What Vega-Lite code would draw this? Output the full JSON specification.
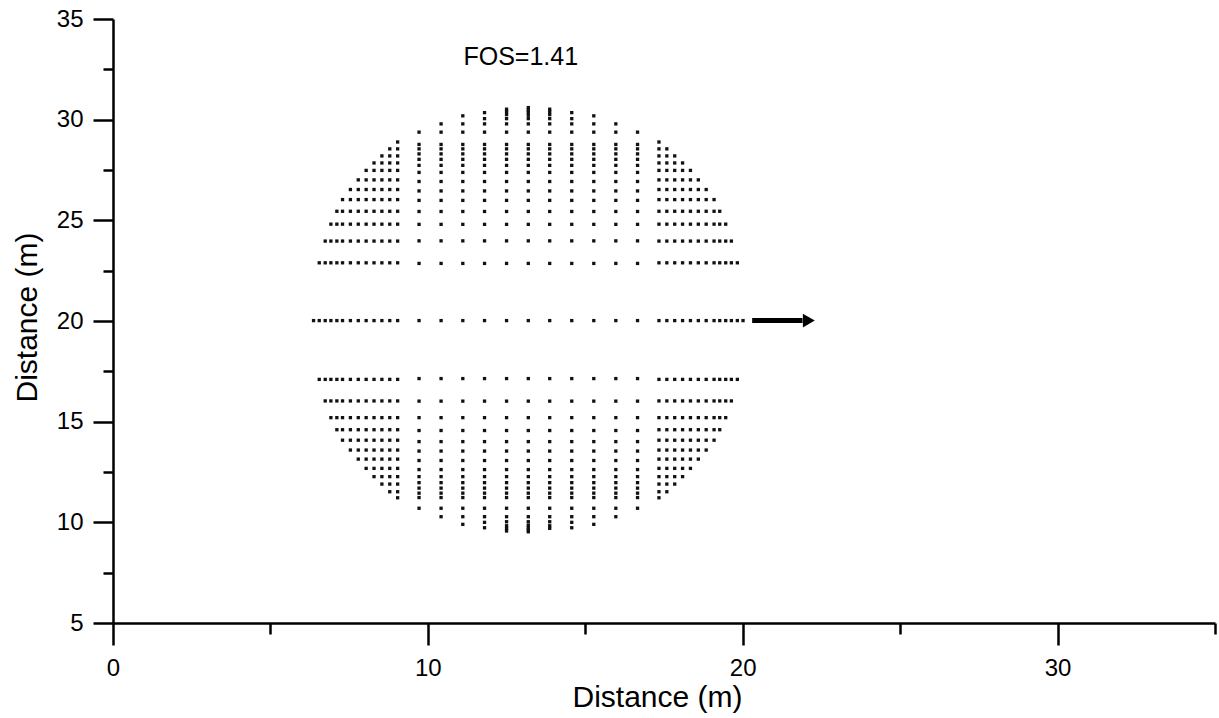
{
"$schema": "https://vega.github.io/schema/vega-lite/v6.json",
"width": 1102, "height": 604,
"autosize": {"type": "none"},
"padding": {"left": 113, "top": 19, "right": 4, "bottom": 95},
"background": "white",
"config": {"view": {"stroke": null}, "font": "Liberation Sans"},
"datasets": {
"pts": [
{"x":9.04,"y":22.89},{"x":8.79,"y":22.89},{"x":8.54,"y":22.89},{"x":8.29,"y":22.89},{"x":8.04,"y":22.89},{"x":7.79,"y":22.89},{"x":7.54,"y":22.89},{"x":7.29,"y":22.89},{"x":7.11,"y":22.89},{"x":6.92,"y":22.89},{"x":6.74,"y":22.89},{"x":6.55,"y":22.89},
{"x":9.04,"y":23.97},{"x":8.79,"y":23.97},{"x":8.54,"y":23.97},{"x":8.29,"y":23.97},{"x":8.04,"y":23.97},{"x":7.79,"y":23.97},{"x":7.54,"y":23.97},{"x":7.29,"y":23.97},{"x":7.11,"y":23.97},{"x":6.92,"y":23.97},{"x":6.74,"y":23.97},
{"x":9.04,"y":24.81},{"x":8.79,"y":24.81},{"x":8.54,"y":24.81},{"x":8.29,"y":24.81},{"x":8.04,"y":24.81},{"x":7.79,"y":24.81},{"x":7.54,"y":24.81},{"x":7.29,"y":24.81},{"x":7.11,"y":24.81},{"x":6.92,"y":24.81},
{"x":9.04,"y":25.45},{"x":8.79,"y":25.45},{"x":8.54,"y":25.45},{"x":8.29,"y":25.45},{"x":8.04,"y":25.45},{"x":7.79,"y":25.45},{"x":7.54,"y":25.45},{"x":7.29,"y":25.45},{"x":7.11,"y":25.45},
{"x":9.04,"y":26.03},{"x":8.79,"y":26.03},{"x":8.54,"y":26.03},{"x":8.29,"y":26.03},{"x":8.04,"y":26.03},{"x":7.79,"y":26.03},{"x":7.54,"y":26.03},{"x":7.29,"y":26.03},
{"x":9.04,"y":26.53},{"x":8.79,"y":26.53},{"x":8.54,"y":26.53},{"x":8.29,"y":26.53},{"x":8.04,"y":26.53},{"x":7.79,"y":26.53},{"x":7.54,"y":26.53},
{"x":9.04,"y":27.01},{"x":8.79,"y":27.01},{"x":8.54,"y":27.01},{"x":8.29,"y":27.01},{"x":8.04,"y":27.01},{"x":7.79,"y":27.01},
{"x":9.04,"y":27.48},{"x":8.79,"y":27.48},{"x":8.54,"y":27.48},{"x":8.29,"y":27.48},{"x":8.04,"y":27.48},
{"x":9.04,"y":27.85},{"x":8.79,"y":27.85},{"x":8.54,"y":27.85},{"x":8.29,"y":27.85},
{"x":9.04,"y":28.2},{"x":8.79,"y":28.2},{"x":8.54,"y":28.2},
{"x":9.04,"y":28.55},{"x":8.79,"y":28.55},
{"x":9.04,"y":28.89},
{"x":9.04,"y":17.1},{"x":8.79,"y":17.1},{"x":8.54,"y":17.1},{"x":8.29,"y":17.1},{"x":8.04,"y":17.1},{"x":7.79,"y":17.1},{"x":7.54,"y":17.1},{"x":7.29,"y":17.1},{"x":7.11,"y":17.1},{"x":6.92,"y":17.1},{"x":6.74,"y":17.1},{"x":6.55,"y":17.1},
{"x":9.04,"y":16.03},{"x":8.79,"y":16.03},{"x":8.54,"y":16.03},{"x":8.29,"y":16.03},{"x":8.04,"y":16.03},{"x":7.79,"y":16.03},{"x":7.54,"y":16.03},{"x":7.29,"y":16.03},{"x":7.11,"y":16.03},{"x":6.92,"y":16.03},{"x":6.74,"y":16.03},
{"x":9.04,"y":15.2},{"x":8.79,"y":15.2},{"x":8.54,"y":15.2},{"x":8.29,"y":15.2},{"x":8.04,"y":15.2},{"x":7.79,"y":15.2},{"x":7.54,"y":15.2},{"x":7.29,"y":15.2},{"x":7.11,"y":15.2},{"x":6.92,"y":15.2},
{"x":9.04,"y":14.6},{"x":8.79,"y":14.6},{"x":8.54,"y":14.6},{"x":8.29,"y":14.6},{"x":8.04,"y":14.6},{"x":7.79,"y":14.6},{"x":7.54,"y":14.6},{"x":7.29,"y":14.6},{"x":7.11,"y":14.6},
{"x":9.04,"y":14.08},{"x":8.79,"y":14.08},{"x":8.54,"y":14.08},{"x":8.29,"y":14.08},{"x":8.04,"y":14.08},{"x":7.79,"y":14.08},{"x":7.54,"y":14.08},{"x":7.29,"y":14.08},
{"x":9.04,"y":13.59},{"x":8.79,"y":13.59},{"x":8.54,"y":13.59},{"x":8.29,"y":13.59},{"x":8.04,"y":13.59},{"x":7.79,"y":13.59},{"x":7.54,"y":13.59},
{"x":9.04,"y":13.14},{"x":8.79,"y":13.14},{"x":8.54,"y":13.14},{"x":8.29,"y":13.14},{"x":8.04,"y":13.14},{"x":7.79,"y":13.14},
{"x":9.04,"y":12.68},{"x":8.79,"y":12.68},{"x":8.54,"y":12.68},{"x":8.29,"y":12.68},{"x":8.04,"y":12.68},
{"x":9.04,"y":12.27},{"x":8.79,"y":12.27},{"x":8.54,"y":12.27},{"x":8.29,"y":12.27},
{"x":9.04,"y":11.9},{"x":8.79,"y":11.9},{"x":8.54,"y":11.9},
{"x":9.04,"y":11.52},{"x":8.79,"y":11.52},
{"x":9.04,"y":11.22},
{"x":17.34,"y":22.89},{"x":17.59,"y":22.89},{"x":17.84,"y":22.89},{"x":18.09,"y":22.89},{"x":18.34,"y":22.89},{"x":18.59,"y":22.89},{"x":18.84,"y":22.89},{"x":19.09,"y":22.89},{"x":19.27,"y":22.89},{"x":19.46,"y":22.89},{"x":19.64,"y":22.89},{"x":19.83,"y":22.89},
{"x":17.34,"y":23.97},{"x":17.59,"y":23.97},{"x":17.84,"y":23.97},{"x":18.09,"y":23.97},{"x":18.34,"y":23.97},{"x":18.59,"y":23.97},{"x":18.84,"y":23.97},{"x":19.09,"y":23.97},{"x":19.27,"y":23.97},{"x":19.46,"y":23.97},{"x":19.64,"y":23.97},
{"x":17.34,"y":24.81},{"x":17.59,"y":24.81},{"x":17.84,"y":24.81},{"x":18.09,"y":24.81},{"x":18.34,"y":24.81},{"x":18.59,"y":24.81},{"x":18.84,"y":24.81},{"x":19.09,"y":24.81},{"x":19.27,"y":24.81},{"x":19.46,"y":24.81},
{"x":17.34,"y":25.45},{"x":17.59,"y":25.45},{"x":17.84,"y":25.45},{"x":18.09,"y":25.45},{"x":18.34,"y":25.45},{"x":18.59,"y":25.45},{"x":18.84,"y":25.45},{"x":19.09,"y":25.45},{"x":19.27,"y":25.45},
{"x":17.34,"y":26.03},{"x":17.59,"y":26.03},{"x":17.84,"y":26.03},{"x":18.09,"y":26.03},{"x":18.34,"y":26.03},{"x":18.59,"y":26.03},{"x":18.84,"y":26.03},{"x":19.09,"y":26.03},
{"x":17.34,"y":26.53},{"x":17.59,"y":26.53},{"x":17.84,"y":26.53},{"x":18.09,"y":26.53},{"x":18.34,"y":26.53},{"x":18.59,"y":26.53},{"x":18.84,"y":26.53},
{"x":17.34,"y":27.01},{"x":17.59,"y":27.01},{"x":17.84,"y":27.01},{"x":18.09,"y":27.01},{"x":18.34,"y":27.01},{"x":18.59,"y":27.01},
{"x":17.34,"y":27.48},{"x":17.59,"y":27.48},{"x":17.84,"y":27.48},{"x":18.09,"y":27.48},{"x":18.34,"y":27.48},
{"x":17.34,"y":27.85},{"x":17.59,"y":27.85},{"x":17.84,"y":27.85},{"x":18.09,"y":27.85},
{"x":17.34,"y":28.2},{"x":17.59,"y":28.2},{"x":17.84,"y":28.2},
{"x":17.34,"y":28.55},{"x":17.59,"y":28.55},
{"x":17.34,"y":28.89},
{"x":17.34,"y":17.1},{"x":17.59,"y":17.1},{"x":17.84,"y":17.1},{"x":18.09,"y":17.1},{"x":18.34,"y":17.1},{"x":18.59,"y":17.1},{"x":18.84,"y":17.1},{"x":19.09,"y":17.1},{"x":19.27,"y":17.1},{"x":19.46,"y":17.1},{"x":19.64,"y":17.1},{"x":19.83,"y":17.1},
{"x":17.34,"y":16.03},{"x":17.59,"y":16.03},{"x":17.84,"y":16.03},{"x":18.09,"y":16.03},{"x":18.34,"y":16.03},{"x":18.59,"y":16.03},{"x":18.84,"y":16.03},{"x":19.09,"y":16.03},{"x":19.27,"y":16.03},{"x":19.46,"y":16.03},{"x":19.64,"y":16.03},
{"x":17.34,"y":15.2},{"x":17.59,"y":15.2},{"x":17.84,"y":15.2},{"x":18.09,"y":15.2},{"x":18.34,"y":15.2},{"x":18.59,"y":15.2},{"x":18.84,"y":15.2},{"x":19.09,"y":15.2},{"x":19.27,"y":15.2},{"x":19.46,"y":15.2},
{"x":17.34,"y":14.6},{"x":17.59,"y":14.6},{"x":17.84,"y":14.6},{"x":18.09,"y":14.6},{"x":18.34,"y":14.6},{"x":18.59,"y":14.6},{"x":18.84,"y":14.6},{"x":19.09,"y":14.6},{"x":19.27,"y":14.6},
{"x":17.34,"y":14.08},{"x":17.59,"y":14.08},{"x":17.84,"y":14.08},{"x":18.09,"y":14.08},{"x":18.34,"y":14.08},{"x":18.59,"y":14.08},{"x":18.84,"y":14.08},{"x":19.09,"y":14.08},
{"x":17.34,"y":13.59},{"x":17.59,"y":13.59},{"x":17.84,"y":13.59},{"x":18.09,"y":13.59},{"x":18.34,"y":13.59},{"x":18.59,"y":13.59},{"x":18.84,"y":13.59},
{"x":17.34,"y":13.14},{"x":17.59,"y":13.14},{"x":17.84,"y":13.14},{"x":18.09,"y":13.14},{"x":18.34,"y":13.14},{"x":18.59,"y":13.14},
{"x":17.34,"y":12.68},{"x":17.59,"y":12.68},{"x":17.84,"y":12.68},{"x":18.09,"y":12.68},{"x":18.34,"y":12.68},
{"x":17.34,"y":12.27},{"x":17.59,"y":12.27},{"x":17.84,"y":12.27},{"x":18.09,"y":12.27},
{"x":17.34,"y":11.9},{"x":17.59,"y":11.9},{"x":17.84,"y":11.9},
{"x":17.34,"y":11.52},{"x":17.59,"y":11.52},
{"x":17.34,"y":11.22},
{"x":6.37,"y":20.02},{"x":6.55,"y":20.02},{"x":6.74,"y":20.02},{"x":6.92,"y":20.02},{"x":7.11,"y":20.02},{"x":7.29,"y":20.02},{"x":7.54,"y":20.02},{"x":7.79,"y":20.02},{"x":8.04,"y":20.02},{"x":8.29,"y":20.02},{"x":8.54,"y":20.02},{"x":8.79,"y":20.02},{"x":9.04,"y":20.02},
{"x":17.34,"y":20.02},{"x":17.59,"y":20.02},{"x":17.84,"y":20.02},{"x":18.09,"y":20.02},{"x":18.34,"y":20.02},{"x":18.59,"y":20.02},{"x":18.84,"y":20.02},{"x":19.09,"y":20.02},{"x":19.27,"y":20.02},{"x":19.46,"y":20.02},{"x":19.64,"y":20.02},{"x":19.83,"y":20.02},{"x":20.01,"y":20.02},
{"x":9.72,"y":20.02},{"x":10.42,"y":20.02},{"x":11.11,"y":20.02},{"x":11.8,"y":20.02},{"x":12.5,"y":20.02},{"x":13.19,"y":20.02},{"x":13.87,"y":20.02},{"x":14.57,"y":20.02},{"x":15.27,"y":20.02},{"x":15.97,"y":20.02},{"x":16.66,"y":20.02},
{"x":9.72,"y":22.86},{"x":9.72,"y":23.98},{"x":9.72,"y":24.8},{"x":9.72,"y":25.44},{"x":9.72,"y":25.99},{"x":9.72,"y":26.46},{"x":9.72,"y":26.93},{"x":9.72,"y":27.38},{"x":9.72,"y":27.73},{"x":9.72,"y":28.03},{"x":9.72,"y":28.3},{"x":9.72,"y":28.55},{"x":9.72,"y":28.77},
{"x":9.72,"y":17.14},{"x":9.72,"y":16.02},{"x":9.72,"y":15.2},{"x":9.72,"y":14.56},{"x":9.72,"y":14.01},{"x":9.72,"y":13.54},{"x":9.72,"y":13.07},{"x":9.72,"y":12.62},{"x":9.72,"y":12.27},{"x":9.72,"y":11.97},{"x":9.72,"y":11.7},{"x":9.72,"y":11.45},{"x":9.72,"y":11.23},
{"x":10.42,"y":22.86},{"x":10.42,"y":23.98},{"x":10.42,"y":24.8},{"x":10.42,"y":25.44},{"x":10.42,"y":25.99},{"x":10.42,"y":26.46},{"x":10.42,"y":26.93},{"x":10.42,"y":27.38},{"x":10.42,"y":27.73},{"x":10.42,"y":28.03},{"x":10.42,"y":28.3},{"x":10.42,"y":28.55},{"x":10.42,"y":28.77},
{"x":10.42,"y":17.14},{"x":10.42,"y":16.02},{"x":10.42,"y":15.2},{"x":10.42,"y":14.56},{"x":10.42,"y":14.01},{"x":10.42,"y":13.54},{"x":10.42,"y":13.07},{"x":10.42,"y":12.62},{"x":10.42,"y":12.27},{"x":10.42,"y":11.97},{"x":10.42,"y":11.7},{"x":10.42,"y":11.45},{"x":10.42,"y":11.23},
{"x":11.11,"y":22.86},{"x":11.11,"y":23.98},{"x":11.11,"y":24.8},{"x":11.11,"y":25.44},{"x":11.11,"y":25.99},{"x":11.11,"y":26.46},{"x":11.11,"y":26.93},{"x":11.11,"y":27.38},{"x":11.11,"y":27.73},{"x":11.11,"y":28.03},{"x":11.11,"y":28.3},{"x":11.11,"y":28.55},{"x":11.11,"y":28.77},
{"x":11.11,"y":17.14},{"x":11.11,"y":16.02},{"x":11.11,"y":15.2},{"x":11.11,"y":14.56},{"x":11.11,"y":14.01},{"x":11.11,"y":13.54},{"x":11.11,"y":13.07},{"x":11.11,"y":12.62},{"x":11.11,"y":12.27},{"x":11.11,"y":11.97},{"x":11.11,"y":11.7},{"x":11.11,"y":11.45},{"x":11.11,"y":11.23},
{"x":11.8,"y":22.86},{"x":11.8,"y":23.98},{"x":11.8,"y":24.8},{"x":11.8,"y":25.44},{"x":11.8,"y":25.99},{"x":11.8,"y":26.46},{"x":11.8,"y":26.93},{"x":11.8,"y":27.38},{"x":11.8,"y":27.73},{"x":11.8,"y":28.03},{"x":11.8,"y":28.3},{"x":11.8,"y":28.55},{"x":11.8,"y":28.77},
{"x":11.8,"y":17.14},{"x":11.8,"y":16.02},{"x":11.8,"y":15.2},{"x":11.8,"y":14.56},{"x":11.8,"y":14.01},{"x":11.8,"y":13.54},{"x":11.8,"y":13.07},{"x":11.8,"y":12.62},{"x":11.8,"y":12.27},{"x":11.8,"y":11.97},{"x":11.8,"y":11.7},{"x":11.8,"y":11.45},{"x":11.8,"y":11.23},
{"x":12.5,"y":22.86},{"x":12.5,"y":23.98},{"x":12.5,"y":24.8},{"x":12.5,"y":25.44},{"x":12.5,"y":25.99},{"x":12.5,"y":26.46},{"x":12.5,"y":26.93},{"x":12.5,"y":27.38},{"x":12.5,"y":27.73},{"x":12.5,"y":28.03},{"x":12.5,"y":28.3},{"x":12.5,"y":28.55},{"x":12.5,"y":28.77},
{"x":12.5,"y":17.14},{"x":12.5,"y":16.02},{"x":12.5,"y":15.2},{"x":12.5,"y":14.56},{"x":12.5,"y":14.01},{"x":12.5,"y":13.54},{"x":12.5,"y":13.07},{"x":12.5,"y":12.62},{"x":12.5,"y":12.27},{"x":12.5,"y":11.97},{"x":12.5,"y":11.7},{"x":12.5,"y":11.45},{"x":12.5,"y":11.23},
{"x":13.19,"y":22.86},{"x":13.19,"y":23.98},{"x":13.19,"y":24.8},{"x":13.19,"y":25.44},{"x":13.19,"y":25.99},{"x":13.19,"y":26.46},{"x":13.19,"y":26.93},{"x":13.19,"y":27.38},{"x":13.19,"y":27.73},{"x":13.19,"y":28.03},{"x":13.19,"y":28.3},{"x":13.19,"y":28.55},{"x":13.19,"y":28.77},
{"x":13.19,"y":17.14},{"x":13.19,"y":16.02},{"x":13.19,"y":15.2},{"x":13.19,"y":14.56},{"x":13.19,"y":14.01},{"x":13.19,"y":13.54},{"x":13.19,"y":13.07},{"x":13.19,"y":12.62},{"x":13.19,"y":12.27},{"x":13.19,"y":11.97},{"x":13.19,"y":11.7},{"x":13.19,"y":11.45},{"x":13.19,"y":11.23},
{"x":13.87,"y":22.86},{"x":13.87,"y":23.98},{"x":13.87,"y":24.8},{"x":13.87,"y":25.44},{"x":13.87,"y":25.99},{"x":13.87,"y":26.46},{"x":13.87,"y":26.93},{"x":13.87,"y":27.38},{"x":13.87,"y":27.73},{"x":13.87,"y":28.03},{"x":13.87,"y":28.3},{"x":13.87,"y":28.55},{"x":13.87,"y":28.77},
{"x":13.87,"y":17.14},{"x":13.87,"y":16.02},{"x":13.87,"y":15.2},{"x":13.87,"y":14.56},{"x":13.87,"y":14.01},{"x":13.87,"y":13.54},{"x":13.87,"y":13.07},{"x":13.87,"y":12.62},{"x":13.87,"y":12.27},{"x":13.87,"y":11.97},{"x":13.87,"y":11.7},{"x":13.87,"y":11.45},{"x":13.87,"y":11.23},
{"x":14.57,"y":22.86},{"x":14.57,"y":23.98},{"x":14.57,"y":24.8},{"x":14.57,"y":25.44},{"x":14.57,"y":25.99},{"x":14.57,"y":26.46},{"x":14.57,"y":26.93},{"x":14.57,"y":27.38},{"x":14.57,"y":27.73},{"x":14.57,"y":28.03},{"x":14.57,"y":28.3},{"x":14.57,"y":28.55},{"x":14.57,"y":28.77},
{"x":14.57,"y":17.14},{"x":14.57,"y":16.02},{"x":14.57,"y":15.2},{"x":14.57,"y":14.56},{"x":14.57,"y":14.01},{"x":14.57,"y":13.54},{"x":14.57,"y":13.07},{"x":14.57,"y":12.62},{"x":14.57,"y":12.27},{"x":14.57,"y":11.97},{"x":14.57,"y":11.7},{"x":14.57,"y":11.45},{"x":14.57,"y":11.23},
{"x":15.27,"y":22.86},{"x":15.27,"y":23.98},{"x":15.27,"y":24.8},{"x":15.27,"y":25.44},{"x":15.27,"y":25.99},{"x":15.27,"y":26.46},{"x":15.27,"y":26.93},{"x":15.27,"y":27.38},{"x":15.27,"y":27.73},{"x":15.27,"y":28.03},{"x":15.27,"y":28.3},{"x":15.27,"y":28.55},{"x":15.27,"y":28.77},
{"x":15.27,"y":17.14},{"x":15.27,"y":16.02},{"x":15.27,"y":15.2},{"x":15.27,"y":14.56},{"x":15.27,"y":14.01},{"x":15.27,"y":13.54},{"x":15.27,"y":13.07},{"x":15.27,"y":12.62},{"x":15.27,"y":12.27},{"x":15.27,"y":11.97},{"x":15.27,"y":11.7},{"x":15.27,"y":11.45},{"x":15.27,"y":11.23},
{"x":15.97,"y":22.86},{"x":15.97,"y":23.98},{"x":15.97,"y":24.8},{"x":15.97,"y":25.44},{"x":15.97,"y":25.99},{"x":15.97,"y":26.46},{"x":15.97,"y":26.93},{"x":15.97,"y":27.38},{"x":15.97,"y":27.73},{"x":15.97,"y":28.03},{"x":15.97,"y":28.3},{"x":15.97,"y":28.55},{"x":15.97,"y":28.77},
{"x":15.97,"y":17.14},{"x":15.97,"y":16.02},{"x":15.97,"y":15.2},{"x":15.97,"y":14.56},{"x":15.97,"y":14.01},{"x":15.97,"y":13.54},{"x":15.97,"y":13.07},{"x":15.97,"y":12.62},{"x":15.97,"y":12.27},{"x":15.97,"y":11.97},{"x":15.97,"y":11.7},{"x":15.97,"y":11.45},{"x":15.97,"y":11.23},
{"x":16.66,"y":22.86},{"x":16.66,"y":23.98},{"x":16.66,"y":24.8},{"x":16.66,"y":25.44},{"x":16.66,"y":25.99},{"x":16.66,"y":26.46},{"x":16.66,"y":26.93},{"x":16.66,"y":27.38},{"x":16.66,"y":27.73},{"x":16.66,"y":28.03},{"x":16.66,"y":28.3},{"x":16.66,"y":28.55},{"x":16.66,"y":28.77},
{"x":16.66,"y":17.14},{"x":16.66,"y":16.02},{"x":16.66,"y":15.2},{"x":16.66,"y":14.56},{"x":16.66,"y":14.01},{"x":16.66,"y":13.54},{"x":16.66,"y":13.07},{"x":16.66,"y":12.62},{"x":16.66,"y":12.27},{"x":16.66,"y":11.97},{"x":16.66,"y":11.7},{"x":16.66,"y":11.45},{"x":16.66,"y":11.23},
{"x":9.72,"y":29.38},
{"x":10.42,"y":29.38},{"x":10.42,"y":29.79},
{"x":11.11,"y":29.38},{"x":11.11,"y":29.79},{"x":11.11,"y":30.19},
{"x":11.8,"y":29.38},{"x":11.8,"y":29.79},{"x":11.8,"y":30.05},{"x":11.8,"y":30.35},
{"x":12.5,"y":29.38},{"x":12.5,"y":29.79},{"x":12.5,"y":30.05},{"x":12.5,"y":30.25},{"x":12.5,"y":30.4},{"x":12.5,"y":30.52},
{"x":13.19,"y":29.38},{"x":13.19,"y":29.79},{"x":13.19,"y":30.05},{"x":13.19,"y":30.22},{"x":13.19,"y":30.36},{"x":13.19,"y":30.48},{"x":13.19,"y":30.6},
{"x":13.87,"y":29.38},{"x":13.87,"y":29.79},{"x":13.87,"y":30.05},{"x":13.87,"y":30.25},{"x":13.87,"y":30.4},{"x":13.87,"y":30.52},
{"x":14.57,"y":29.38},{"x":14.57,"y":29.79},{"x":14.57,"y":30.05},{"x":14.57,"y":30.35},
{"x":15.27,"y":29.38},{"x":15.27,"y":29.79},{"x":15.27,"y":30.19},
{"x":15.97,"y":29.38},{"x":15.97,"y":29.79},
{"x":16.66,"y":29.38},
{"x":9.72,"y":10.7},
{"x":10.42,"y":10.7},{"x":10.42,"y":10.28},
{"x":11.11,"y":10.7},{"x":11.11,"y":10.28},{"x":11.11,"y":9.9},
{"x":11.8,"y":10.7},{"x":11.8,"y":10.28},{"x":11.8,"y":10.0},{"x":11.8,"y":9.73},
{"x":12.5,"y":10.7},{"x":12.5,"y":10.28},{"x":12.5,"y":10.03},{"x":12.5,"y":9.83},{"x":12.5,"y":9.7},{"x":12.5,"y":9.57},
{"x":13.19,"y":10.7},{"x":13.19,"y":10.28},{"x":13.19,"y":10.03},{"x":13.19,"y":9.86},{"x":13.19,"y":9.74},{"x":13.19,"y":9.63},{"x":13.19,"y":9.53},
{"x":13.87,"y":10.7},{"x":13.87,"y":10.28},{"x":13.87,"y":10.03},{"x":13.87,"y":9.83},{"x":13.87,"y":9.7},
{"x":14.57,"y":10.7},{"x":14.57,"y":10.28},{"x":14.57,"y":10.0},{"x":14.57,"y":9.73},
{"x":15.27,"y":10.7},{"x":15.27,"y":10.28},{"x":15.27,"y":9.9},
{"x":15.97,"y":10.7},{"x":15.97,"y":10.28},
{"x":16.66,"y":10.7}
],
"arrow": [{"x": 20.3, "x2": 21.9, "xh": 22.1, "y": 20.02}],
"label": [{"x": 12.95, "y": 33.1, "t": "FOS=1.41"}]
},
"layer": [
{
"data": {"name": "pts"},
"mark": {"type": "point", "filled": true, "shape": "square", "size": 11, "color": "#111111", "opacity": 1},
"encoding": {
"x": {"field": "x", "type": "quantitative",
 "scale": {"domain": [0, 35], "nice": false, "zero": false},
 "axis": {"values": [0, 5, 10, 15, 20, 25, 30, 35],
  "labelExpr": "datum.value % 10 === 0 ? datum.label : ''",
  "tickSize": {"condition": {"test": "datum.value % 10 === 0", "value": 22}, "value": 11},
  "tickWidth": 2.5, "tickColor": "black", "domainColor": "black", "domainWidth": 2.5,
  "labelFontSize": 24, "labelColor": "black", "labelFont": "Liberation Sans", "labelPadding": 11, "labelFlush": false,
  "grid": false,
  "title": "Distance (m)", "titleFont": "Liberation Sans", "titleFontSize": 30, "titleFontWeight": "normal", "titleColor": "black",
  "titleX": 544, "titleY": 74, "titleAlign": "center", "titleBaseline": "middle"}},
"y": {"field": "y", "type": "quantitative",
 "scale": {"domain": [5, 35], "nice": false, "zero": false},
 "axis": {"values": [5, 7.5, 10, 12.5, 15, 17.5, 20, 22.5, 25, 27.5, 30, 32.5, 35],
  "labelExpr": "datum.value % 5 === 0 ? datum.label : ''",
  "tickSize": {"condition": {"test": "datum.value % 5 === 0", "value": 20}, "value": 10},
  "tickWidth": 2.5, "tickColor": "black", "domainColor": "black", "domainWidth": 2.5,
  "labelFontSize": 24, "labelColor": "black", "labelFont": "Liberation Sans", "labelPadding": 10, "labelFlush": false,
  "grid": false,
  "title": "Distance (m)", "titleFont": "Liberation Sans", "titleFontSize": 30, "titleFontWeight": "normal", "titleColor": "black",
  "titleX": -86, "titleY": 298, "titleAngle": -90, "titleAlign": "center", "titleBaseline": "middle"}}
}
},
{
"data": {"name": "arrow"},
"mark": {"type": "rule", "strokeWidth": 5, "color": "black"},
"encoding": {"x": {"field": "x", "type": "quantitative"}, "x2": {"field": "x2"}, "y": {"field": "y", "type": "quantitative"}}
},
{
"data": {"name": "arrow"},
"mark": {"type": "point", "shape": "triangle-right", "filled": true, "size": 190, "color": "black", "opacity": 1},
"encoding": {"x": {"field": "xh", "type": "quantitative"}, "y": {"field": "y", "type": "quantitative"}}
},
{
"data": {"name": "label"},
"mark": {"type": "text", "fontSize": 25, "font": "Liberation Sans", "color": "black"},
"encoding": {"x": {"field": "x", "type": "quantitative"}, "y": {"field": "y", "type": "quantitative"}, "text": {"field": "t"}}
}
]
}
